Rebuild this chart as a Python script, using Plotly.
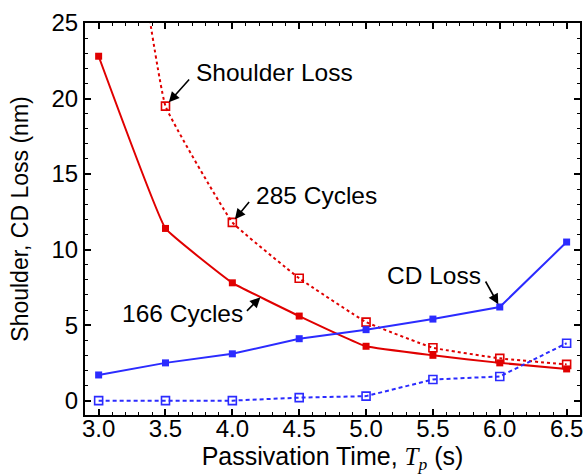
import plotly.graph_objects as go

# Passivation time (s)
t_pass = [3.0, 3.5, 4.0, 4.5, 5.0, 5.5, 6.0, 6.5]

# Shoulder loss (nm) for two cycle counts
shoulder_166 = [22.8, 11.4, 7.8, 5.6, 3.6, 3.0, 2.5, 2.1]
shoulder_285 = [48.0, 19.5, 11.8, 8.1, 5.2, 3.5, 2.8, 2.4]

# CD loss (nm) for two cycle counts
cd_166 = [1.7, 2.5, 3.1, 4.1, 4.7, 5.4, 6.2, 10.5]
cd_285 = [0.0, 0.0, 0.0, 0.2, 0.3, 1.4, 1.6, 3.8]

RED = "#e00000"
BLUE = "#2b2bff"
FONT = "Liberation Sans, Arial, sans-serif"
SERIF = "Liberation Serif, Times New Roman, serif"

fig = go.Figure()

fig.add_trace(go.Scatter(
    x=t_pass, y=shoulder_166, mode="lines+markers",
    line=dict(color=RED, width=2, shape="spline", smoothing=0.25),
    marker=dict(symbol="square", size=7, color=RED),
))
fig.add_trace(go.Scatter(
    x=t_pass, y=shoulder_285, mode="lines+markers",
    line=dict(color=RED, width=2, dash="3px,3px", shape="spline", smoothing=0.25),
    marker=dict(symbol="square-open", size=8, color=RED, line=dict(width=1.6)),
))
fig.add_trace(go.Scatter(
    x=t_pass, y=cd_166, mode="lines+markers",
    line=dict(color=BLUE, width=2),
    marker=dict(symbol="square", size=7, color=BLUE),
))
fig.add_trace(go.Scatter(
    x=t_pass, y=cd_285, mode="lines+markers",
    line=dict(color=BLUE, width=2, dash="4px,3px"),
    marker=dict(symbol="square-open", size=8, color=BLUE, line=dict(width=1.6)),
))

# Callout arrows (head at data point, tail offset in pixels)
arrows = [
    (3.5, 19.5, 25, -28, 5),
    (4.0, 11.8, 18, -22, 4),
    (4.21, 6.84, -15, 15, 0),
    (6.0, 6.2, -15, -27, 3),
]
for x, y, ax, ay, so in arrows:
    fig.add_annotation(
        x=x, y=y, xref="x", yref="y", ax=ax, ay=ay, text="",
        showarrow=True, arrowhead=2, arrowsize=1.3, arrowwidth=1.6,
        arrowcolor="black", standoff=so,
    )

# Callout labels
labels = [
    (3.714, 21.72, "Shoulder Loss"),
    (4.161, 13.6, "285 Cycles"),
    (3.161, 5.78, "166 Cycles"),
    (5.141, 8.31, "CD Loss"),
]
for x, y, txt in labels:
    fig.add_annotation(
        x=x, y=y, xref="x", yref="y", text=txt, showarrow=False,
        xanchor="left", yanchor="middle",
        font=dict(family=FONT, size=24.5, color="black"),
    )

axis_common = dict(
    showline=True, linecolor="black", linewidth=2, mirror="allticks",
    ticks="inside", ticklen=6, tickwidth=1.5, tickcolor="black",
    showgrid=False, zeroline=False,
    tickfont=dict(family=FONT, size=24, color="black"),
)

fig.update_xaxes(
    range=[2.898, 6.6],
    tickvals=t_pass, ticktext=[f"{v:.1f}" for v in t_pass],
    ticklabelstandoff=-9,
    minor=dict(dtick=0.1, tick0=3.0, ticks="inside", ticklen=3, tickcolor="black", tickwidth=1),
    title=dict(
        text=f"Passivation Time, <i><span style='font-family:{SERIF}'>T</span></i>"
             f"<sub><i><span style='font-family:{SERIF}'>p</span></i></sub> (s)",
        font=dict(family=FONT, size=25, color="black"), standoff=11,
    ),
    **axis_common,
)
fig.update_yaxes(
    range=[-0.95, 25],
    tickvals=[0, 5, 10, 15, 20, 25],
    minor=dict(dtick=1, tick0=0, ticks="inside", ticklen=3, tickcolor="black", tickwidth=1),
    title=dict(text="Shoulder, CD Loss (nm)", font=dict(family=FONT, size=23, color="black"), standoff=16),
    **axis_common,
)

fig.update_layout(
    width=587, height=474,
    margin=dict(l=85, r=4, t=23, b=59),
    paper_bgcolor="white", plot_bgcolor="white",
    showlegend=False,
    font=dict(family=FONT, color="black"),
)

fig.write_html("out.html")
